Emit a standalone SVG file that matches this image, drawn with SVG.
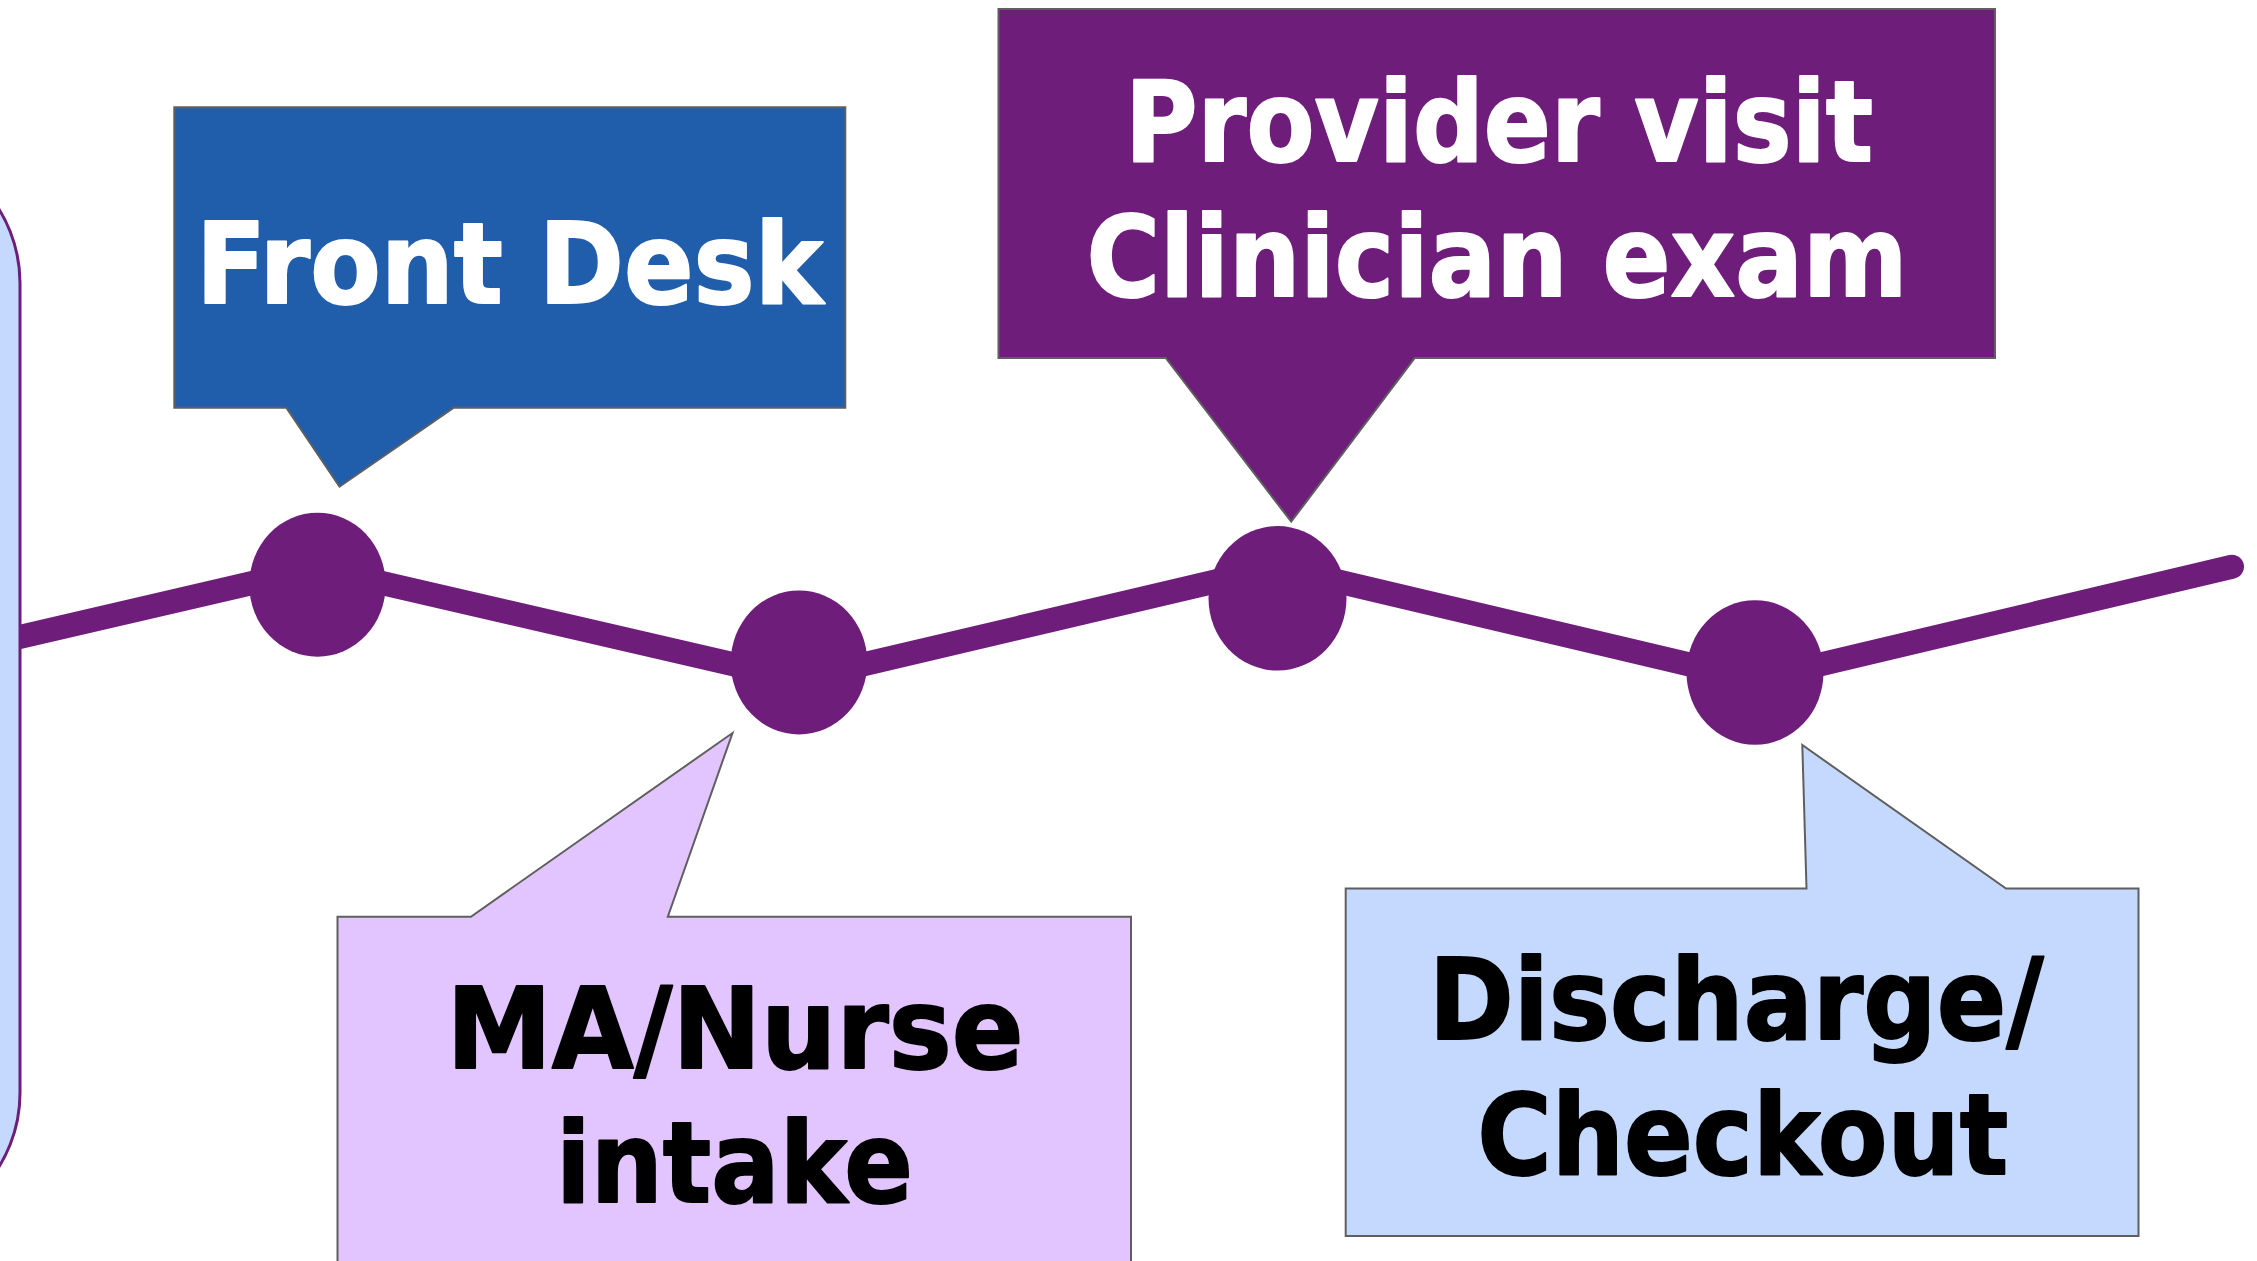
<svg xmlns="http://www.w3.org/2000/svg" width="2257" height="1261" viewBox="0 0 2257 1261">
  <style>
    .track { fill: none; stroke: #6F1D7B; stroke-width: 24; stroke-linecap: round; stroke-linejoin: round; }
    .dot { fill: #6F1D7B; }
    .callout { stroke: #5F5F5F; stroke-width: 2; stroke-linejoin: miter; }
    .label { font-family: "DejaVu Sans", Verdana, sans-serif; font-weight: bold; font-size: 112px; stroke-width: 2; stroke-linejoin: round; }
    .light { fill: #FFFFFF; stroke: #FFFFFF; }
    .dark { fill: #000000; stroke: #000000; }
  </style>

  <rect width="2257" height="1261" fill="#FFFFFF"/>

  <!-- timeline track -->
  <g id="connectors">
    <polyline class="track" points="0,641.6 317,568 799,679.5 1277,567 1755,680 2232,566.7"/>
  </g>

  <!-- start bar, mostly beyond the left edge -->
  <g id="start-bar">
    <rect x="-580" y="143" width="600" height="1090" rx="140" ry="140" fill="#C5D9FE" stroke="#6F1D7B" stroke-width="3"/>
  </g>

  <!-- milestones on the track -->
  <g id="step-1"><ellipse class="dot" cx="317.5" cy="584.7" rx="68.2" ry="72"/></g>
  <g id="step-2"><ellipse class="dot" cx="799" cy="662.4" rx="68.3" ry="72"/></g>
  <g id="step-3"><ellipse class="dot" cx="1277.5" cy="598.3" rx="69" ry="72.3"/></g>
  <g id="step-4"><ellipse class="dot" cx="1755" cy="672.5" rx="68.5" ry="72.3"/></g>

  <!-- speech-bubble labels -->
  <g id="front-desk">
    <path class="callout" fill="#205EAB" d="M174.3,107.3 H845.3 V407.7 H453.8 L339.5,486.7 L286.3,407.7 H174.3 Z"/>
    <text class="label light" x="196" y="302.7" textLength="627" lengthAdjust="spacingAndGlyphs">Front Desk</text>
  </g>

  <g id="provider-visit">
    <path class="callout" fill="#6F1D7B" d="M998.5,9 H1995 V358 H1414.8 L1291.2,521.7 L1165.7,358 H998.5 Z"/>
    <text class="label light" x="1125" y="160.8" textLength="748" lengthAdjust="spacingAndGlyphs">Provider visit</text>
    <text class="label light" x="1086.5" y="295.5" textLength="821" lengthAdjust="spacingAndGlyphs">Clinician exam</text>
  </g>

  <g id="ma-nurse-intake">
    <path class="callout" fill="#E2C5FE" d="M337.5,916.7 H470.9 L732.5,733 L667.8,916.7 H1131 V1275 H337.5 Z"/>
    <text class="label dark" x="446.5" y="1067.8" textLength="577" lengthAdjust="spacingAndGlyphs">MA/Nurse</text>
    <text class="label dark" x="556" y="1202" textLength="357" lengthAdjust="spacingAndGlyphs">intake</text>
  </g>

  <g id="discharge-checkout">
    <path class="callout" fill="#C5D9FE" d="M1345.7,888.5 H1806.5 L1802.3,745 L2006,888.5 H2138.5 V1236 H1345.7 Z"/>
    <text class="label dark" x="1428.7" y="1039.2" textLength="615" lengthAdjust="spacingAndGlyphs">Discharge/</text>
    <text class="label dark" x="1477.2" y="1174.3" textLength="531" lengthAdjust="spacingAndGlyphs">Checkout</text>
  </g>
</svg>
